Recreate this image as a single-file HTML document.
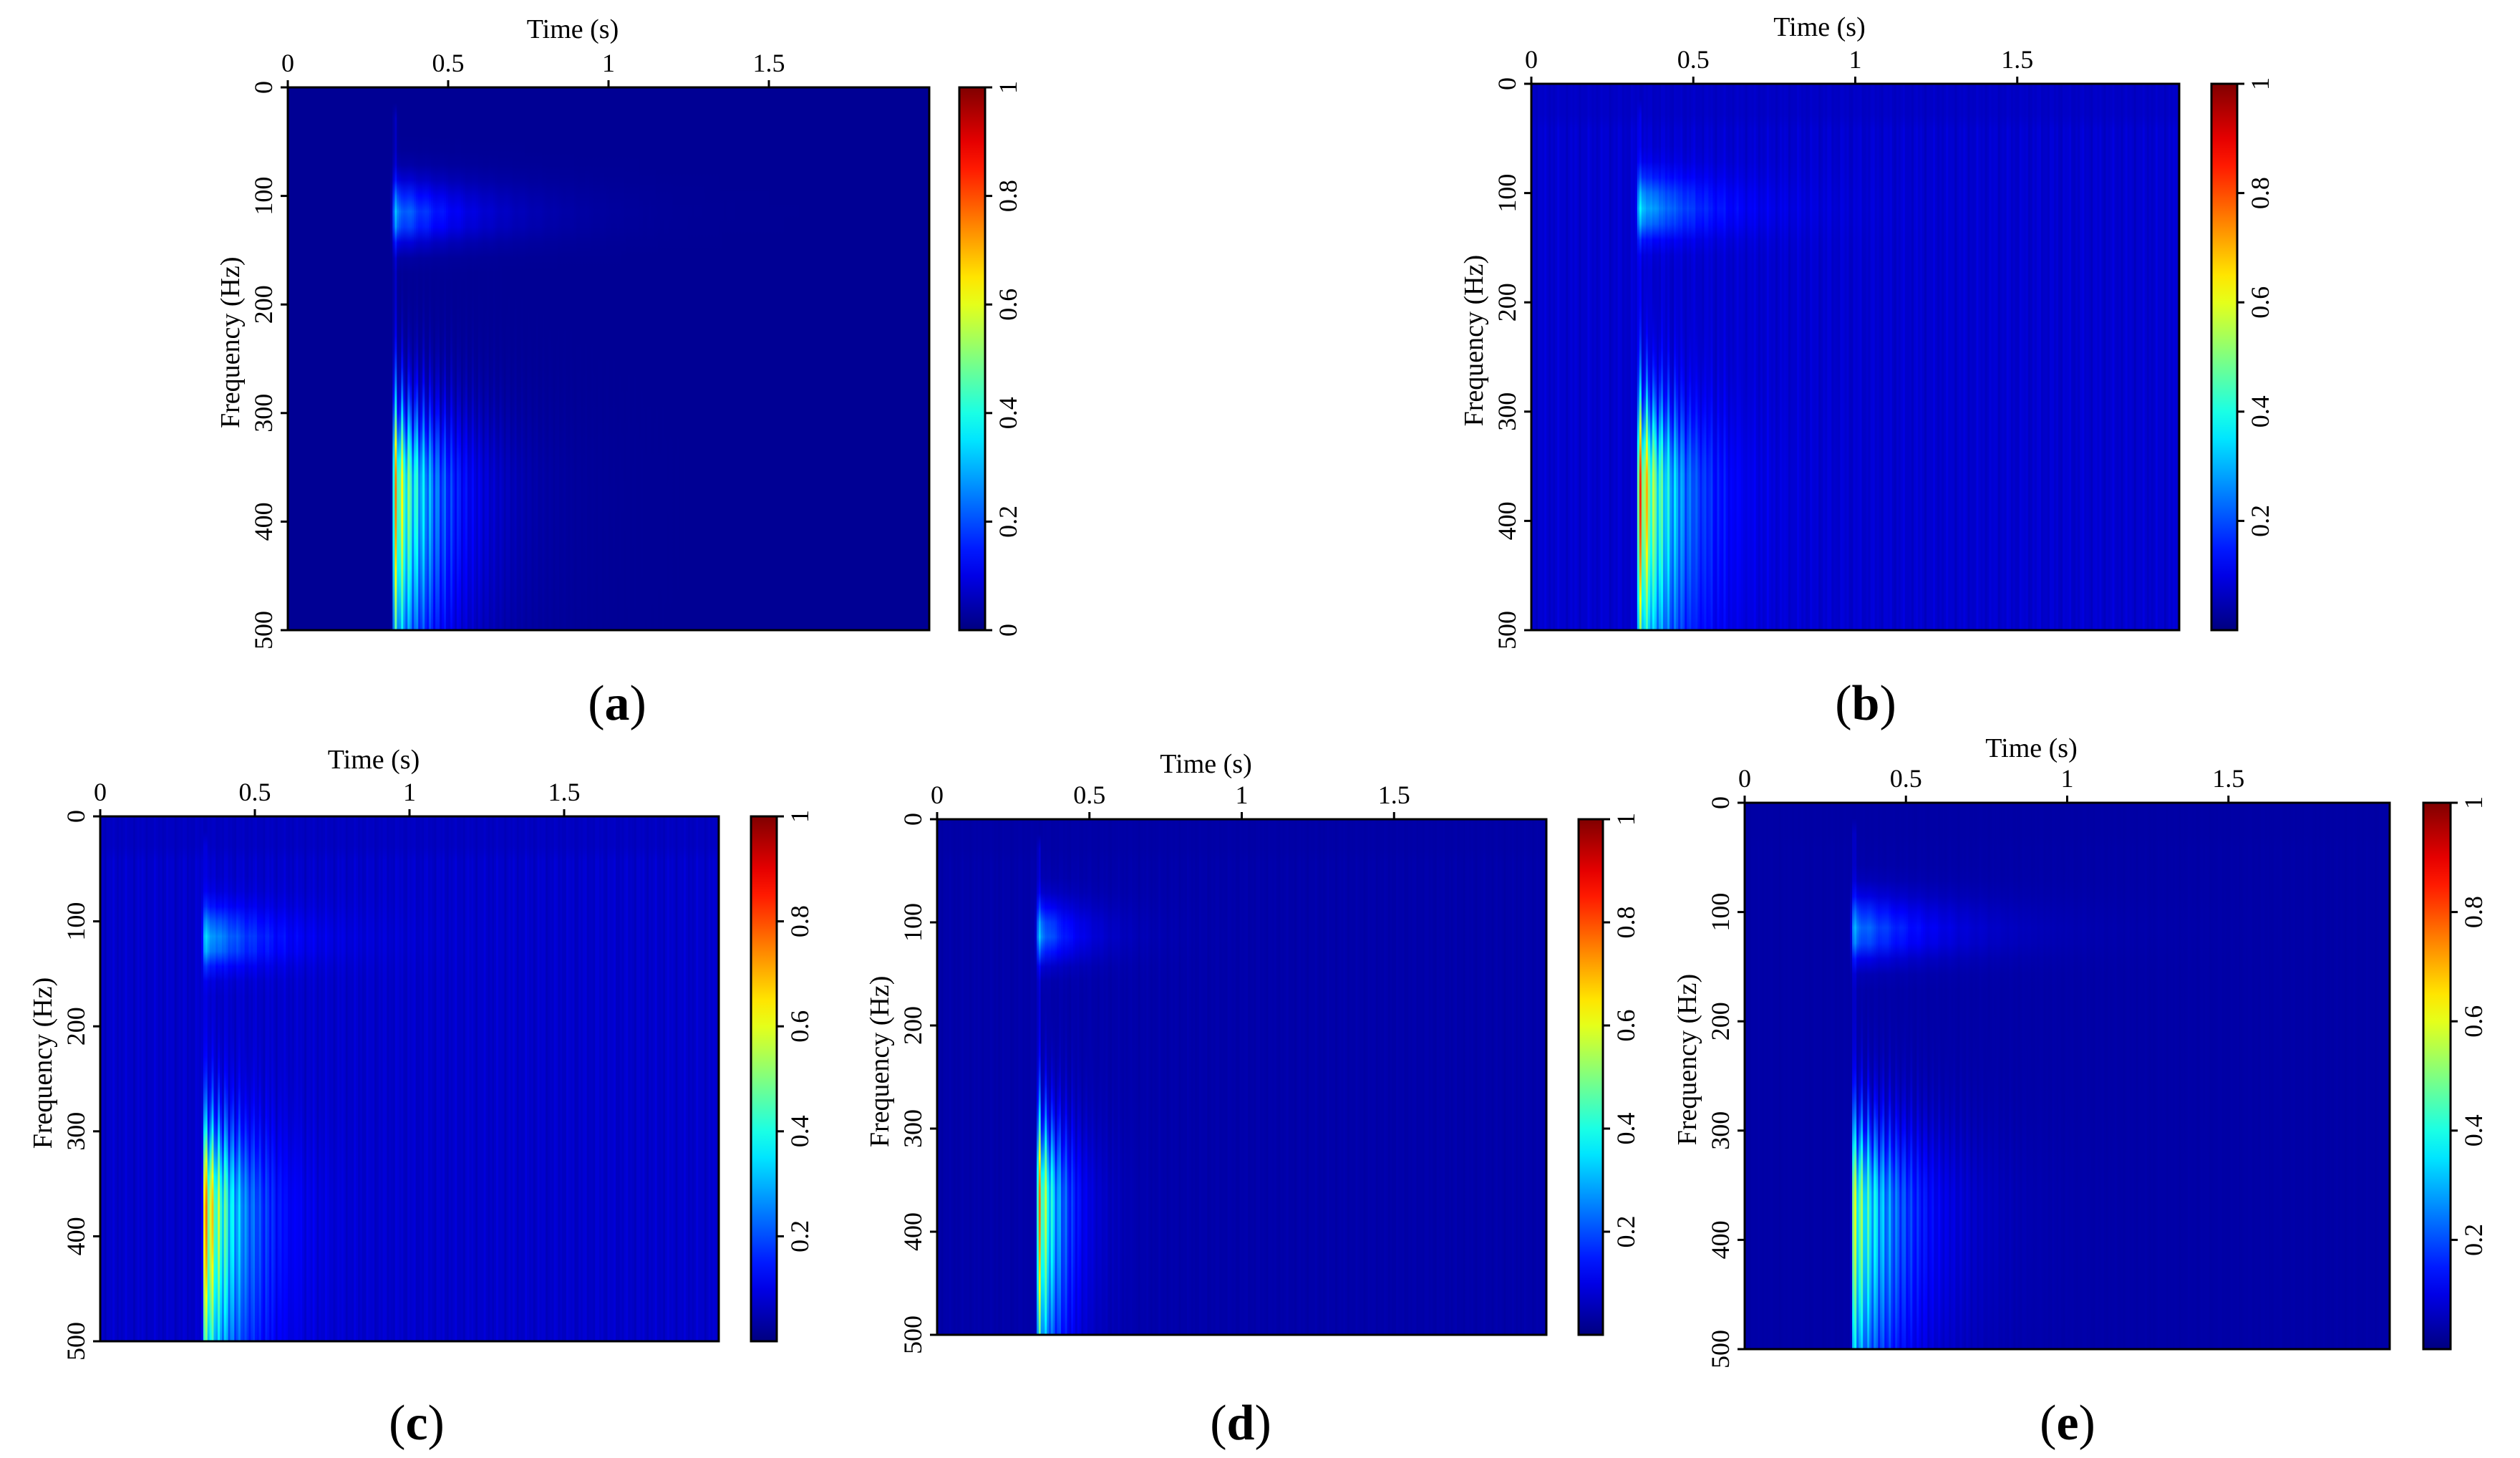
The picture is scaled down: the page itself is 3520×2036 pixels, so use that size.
<!DOCTYPE html>
<html><head><meta charset="utf-8"><style>
html,body{margin:0;padding:0;background:#fff;}
#root{position:relative;width:3520px;height:2036px;overflow:hidden;background:#fff;}
svg{position:absolute;left:0;top:0;}
</style></head><body>
<div id="root">
<svg id="axes" xmlns="http://www.w3.org/2000/svg" width="3520" height="2036"><defs id="defs"></defs></svg>
</div>
<script>
// ---- data ----
var panelIds=['a','b','c','d','e'];
var timeTicks=[0,0.5,1,1.5];
var timeTickLabels=['0','0.5','1','1.5'];
var freqTicks=[0,100,200,300,400,500];
var cbTicksA=[0,0.2,0.4,0.6,0.8,1];
var cbTickLabelsA=['0','0.2','0.4','0.6','0.8','1'];
var cbTicksB=[0.2,0.4,0.6,0.8,1];
var cbTickLabelsB=['0.2','0.4','0.6','0.8','1'];
var onsetTime=[0.335,0.335,0.34,0.335,0.34];
var lowBandPeakFreq=[370,370,375,370,370];
var lowBandAmp=[0.72,0.76,0.76,0.72,0.6];
var highBandFreq=[118,115,118,112,118];
var highBandAmp=[0.26,0.27,0.26,0.25,0.24];
var decayTime=[0.13,0.11,0.11,0.07,0.14];
var bgLevel=[0.02,0.06,0.055,0.035,0.035];
var stripeAmp=[0,0.035,0.035,0.012,0.006];
// ---- layout ----
var L=[
 {x:402,y:122,w:896,h:758,cx:1340,cw:36,ty:41,lab:[862,981],cb:'A'},
 {x:2139,y:117,w:905,h:763,cx:3089,cw:36,ty:38,lab:[2606,981],cb:'B'},
 {x:140,y:1140,w:864,h:733,cx:1049,cw:36,ty:1061,lab:[582,1986],cb:'B'},
 {x:1309,y:1144,w:851,h:720,cx:2205,cw:34,ty:1067,lab:[1733,1986],cb:'B'},
 {x:2437,y:1121,w:901,h:763,cx:3385,cw:38,ty:1045,lab:[2888,1986],cb:'B'}];
var NCOL=300, NSTOP=36;
function clamp(v){return Math.max(0,Math.min(1,v));}
function jet(v){v=clamp(v);
 var r=clamp(1.5-Math.abs(4*v-3)),g=clamp(1.5-Math.abs(4*v-2)),b=clamp(1.5-Math.abs(4*v-1));
 return 'rgb('+Math.round(r*255)+','+Math.round(g*255)+','+Math.round(b*255)+')';}
function sq(x){return x*x;}
function val(i,t,f){
 var t0=onsetTime[i],dt=t-t0;
 var v=bgLevel[i]+stripeAmp[i]*(0.5+0.5*Math.sin(t*97)*Math.sin(t*233+1))*(f>40?1:0.5);
 if(dt<-0.02) return v;
 var env=dt<0?Math.exp(-sq(dt/0.006)):Math.exp(-dt/decayTime[i]);
 var env2=dt<0?Math.exp(-sq(dt/0.008)):Math.exp(-dt/(decayTime[i]*1.6));
 var fp=lowBandPeakFreq[i];
 var edge=280-20*Math.cos(2*Math.PI*dt/0.022);
 var prof=f<fp?Math.exp(-sq((f-fp)/((fp-edge)*0.8))):Math.exp(-sq((f-fp)/170));
 var stri=dt<0?1:0.55+0.45*sq(Math.cos(Math.PI*dt/0.022));
 v+=lowBandAmp[i]*prof*env*stri;
 var hf=highBandFreq[i];
 v+=highBandAmp[i]*Math.exp(-sq((f-hf)/(f<hf?30:24)))*env2*(dt<0?1:0.85+0.15*sq(Math.cos(Math.PI*dt/0.05)));
 v+=0.05*Math.exp(-sq(dt/0.005))*(f>25?1:0);
 return v;}
var svg=document.getElementById('axes');
var defs=document.getElementById('defs');
var NS='http://www.w3.org/2000/svg';
function mk(tag,attrs,txt,parent){var e=document.createElementNS(NS,tag);for(var k in attrs){e.setAttribute(k,attrs[k]);}if(txt!==undefined&&txt!==null){e.appendChild(document.createTextNode(txt));}(parent||svg).appendChild(e);return e;}
var F='font-family:"Liberation Serif",serif;';
var cbg=mk('linearGradient',{id:'cbgrad',x1:0,y1:1,x2:0,y2:0},null,defs);
for(var k=0;k<=20;k++){mk('stop',{offset:k/20,'stop-color':jet(k/20)},null,cbg);}
function drawPanel(i){
 var id=panelIds[i], p=L[i];
 function xS(t){return p.x+t/2*p.w;}
 function yS(f){return p.y+f/500*p.h;}
 var hm=mk('g',{});
 
 
 var cw=p.w/NCOL;
 for(var c=0;c<NCOL;c++){
  var t=(c+0.5)/NCOL*2;
  var gid='g'+id+c;
  var gr=mk('linearGradient',{id:gid,x1:0,y1:0,x2:0,y2:1},null,defs);
  for(var s=0;s<NSTOP;s++){var f=s/(NSTOP-1)*500;mk('stop',{offset:(s/(NSTOP-1)).toFixed(4),'stop-color':jet(val(i,t,f))},null,gr);}
  mk('rect',{x:(p.x+c*cw).toFixed(2),y:p.y,width:(cw+0.7).toFixed(2),height:p.h,fill:'url(#'+gid+')'},null,hm);
 }
 var cbr=mk('rect',{x:p.cx,y:p.y,width:p.cw,height:p.h,fill:'url(#cbgrad)',stroke:'#000','stroke-width':3});
 
 
 mk('rect',{x:p.x,y:p.y,width:p.w,height:p.h,fill:'none',stroke:'#000','stroke-width':3});
 for(var j=0;j<timeTicks.length;j++){var x=xS(timeTicks[j]);
  mk('line',{x1:x,y1:p.y,x2:x,y2:p.y-10,stroke:'#000','stroke-width':3});
  var tl=mk('text',{x:x,y:p.y-22,'text-anchor':'middle',style:F+'font-size:36px'},timeTickLabels[j]);
  
  }
 var tt=mk('text',{x:p.x+p.w*0.5-50,y:p.ty+12,'text-anchor':'middle',style:F+'font-size:38px'},'Time (s)');
 
 
 for(j=0;j<freqTicks.length;j++){var y=yS(freqTicks[j]);
  mk('line',{x1:p.x,y1:y,x2:p.x-10,y2:y,stroke:'#000','stroke-width':3});
  var fl=mk('text',{x:0,y:0,'text-anchor':'middle',transform:'translate('+(p.x-22)+','+y+') rotate(-90)',style:F+'font-size:36px'},String(freqTicks[j]));
  
  }
 var yt=mk('text',{x:0,y:0,'text-anchor':'middle',transform:'translate('+(p.x-68)+','+(p.y+p.h*0.47)+') rotate(-90)',style:F+'font-size:38px'},'Frequency (Hz)');
 
 
 var ct=p.cb==='A'?cbTicksA:cbTicksB, cl=p.cb==='A'?cbTickLabelsA:cbTickLabelsB;
 for(j=0;j<ct.length;j++){var yy=p.y+(1-ct[j])*p.h;
  mk('line',{x1:p.cx+p.cw,y1:yy,x2:p.cx+p.cw+10,y2:yy,stroke:'#000','stroke-width':3});
  var c2=mk('text',{x:0,y:0,'text-anchor':'middle',transform:'translate('+(p.cx+p.cw+44)+','+yy+') rotate(-90)',style:F+'font-size:36px'},cl[j]);
  
  }
 var pl=mk('text',{x:p.lab[0],y:p.lab[1]+24,'text-anchor':'middle',style:F+'font-size:70px'});
 
 
 mk('tspan',{},'(',pl);
 mk('tspan',{'font-weight':'bold'},id,pl);
 mk('tspan',{},')',pl);
}
for(var pi=0;pi<panelIds.length;pi++){try{drawPanel(pi);}catch(e){}}
</script>
</body></html>
